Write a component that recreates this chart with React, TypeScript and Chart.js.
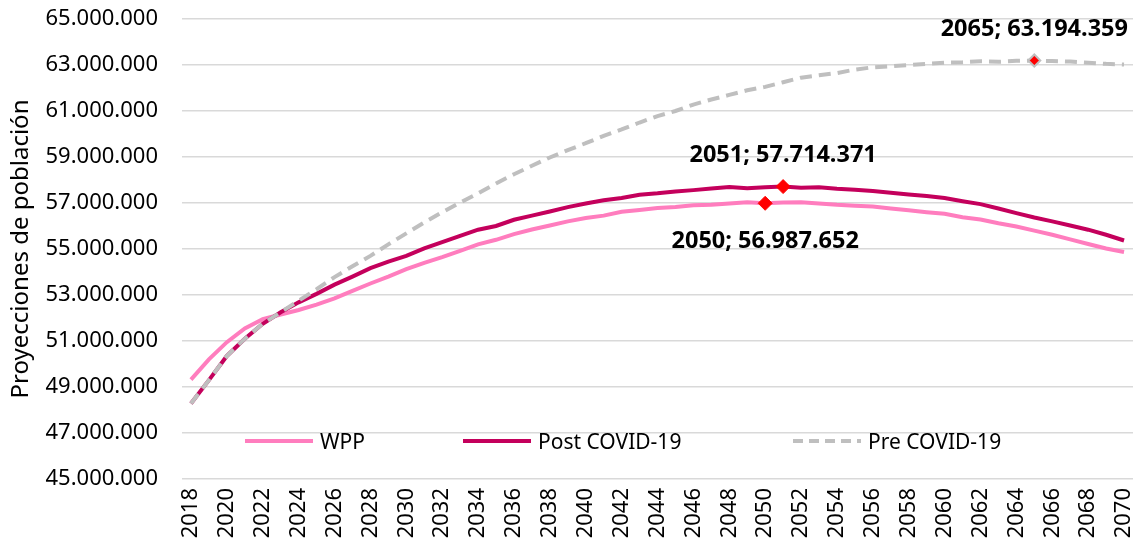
import React, { useEffect, useRef } from 'react';
import { Chart, registerables } from 'chart.js';

Chart.register(...registerables);

const years = [
  '2018', '2019', '2020', '2021', '2022', '2023', '2024', '2025', '2026', '2027',
  '2028', '2029', '2030', '2031', '2032', '2033', '2034', '2035', '2036', '2037',
  '2038', '2039', '2040', '2041', '2042', '2043', '2044', '2045', '2046', '2047',
  '2048', '2049', '2050', '2051', '2052', '2053', '2054', '2055', '2056', '2057',
  '2058', '2059', '2060', '2061', '2062', '2063', '2064', '2065', '2066', '2067',
  '2068', '2069', '2070',
];

const wpp = [
  49320000, 50200000, 50950000, 51550000, 51950000, 52150000, 52350000, 52580000, 52850000, 53180000,
  53500000, 53800000, 54120000, 54400000, 54650000, 54920000, 55200000, 55400000, 55650000, 55850000,
  56020000, 56200000, 56350000, 56450000, 56620000, 56700000, 56780000, 56830000, 56900000, 56920000,
  56980000, 57030000, 56987652, 57020000, 57030000, 56980000, 56920000, 56880000, 56850000, 56760000,
  56680000, 56600000, 56530000, 56380000, 56280000, 56120000, 55980000, 55800000, 55620000, 55420000,
  55220000, 55020000, 54870000,
];

const postCovid = [
  48280000, 49300000, 50350000, 51100000, 51750000, 52250000, 52680000, 53050000, 53450000, 53800000,
  54170000, 54450000, 54700000, 55030000, 55300000, 55570000, 55840000, 56000000, 56270000, 56450000,
  56630000, 56820000, 56980000, 57120000, 57220000, 57360000, 57420000, 57500000, 57560000, 57630000,
  57700000, 57640000, 57680000, 57714371, 57660000, 57680000, 57620000, 57580000, 57520000, 57450000,
  57370000, 57300000, 57220000, 57080000, 56950000, 56760000, 56560000, 56370000, 56200000, 56020000,
  55840000, 55620000, 55370000,
];

const preCovid = [
  48280000, 49300000, 50350000, 51100000, 51750000, 52250000, 52750000, 53250000, 53780000, 54250000,
  54700000, 55200000, 55680000, 56150000, 56600000, 57020000, 57420000, 57850000, 58250000, 58620000,
  58980000, 59300000, 59600000, 59920000, 60200000, 60500000, 60780000, 61000000, 61280000, 61500000,
  61700000, 61900000, 62050000, 62250000, 62450000, 62550000, 62650000, 62800000, 62900000, 62950000,
  63000000, 63050000, 63100000, 63120000, 63160000, 63140000, 63180000, 63194359, 63170000, 63150000,
  63100000, 63050000, 63020000,
];

const seriesNames = ['WPP', 'Post COVID-19', 'Pre COVID-19'];
const highlightYears = ['2050', '2051', '2065'];

const FONT = '"Noto Sans", "Open Sans", sans-serif';
const COLORS = ['#FF7DBE', '#C4005C', '#BFBFBF'];

const fmt = (v: number) =>
  Math.round(v).toString().replace(/\B(?=(\d{3})+(?!\d))/g, '.');

const legendPlugin = {
  id: 'insideLegend',
  afterDraw(chart: any) {
    const { ctx, chartArea } = chart;
    const y = chartArea.bottom - 38;
    const offsets = [63, 281, 611];
    ctx.save();
    ctx.font = `21px ${FONT}`;
    ctx.textBaseline = 'middle';
    ctx.fillStyle = '#000';
    seriesNames.forEach((name, i) => {
      const x0 = chartArea.left + offsets[i];
      ctx.beginPath();
      ctx.strokeStyle = COLORS[i];
      ctx.lineWidth = 4;
      ctx.setLineDash(i === 2 ? [10, 6] : []);
      ctx.moveTo(x0, y);
      ctx.lineTo(x0 + 68, y);
      ctx.stroke();
      ctx.setLineDash([]);
      ctx.fillText(name, x0 + 75, y + 2);
    });
    ctx.restore();
  },
};

const labelPlugin = {
  id: 'pointLabels',
  afterDatasetsDraw(chart: any) {
    const { ctx } = chart;
    ctx.save();
    ctx.font = `bold 23.5px ${FONT}`;
    ctx.fillStyle = '#000';
    ctx.textAlign = 'center';
    ctx.textBaseline = 'middle';
    const dsValues = [wpp, postCovid, preCovid];
    highlightYears.forEach((yr, i) => {
      const idx = years.indexOf(yr);
      const pt = chart.getDatasetMeta(i).data[idx];
      if (!pt) return;
      const dy = i === 0 ? 38 : -31;
      ctx.fillText(`${yr}; ${fmt(dsValues[i][idx])}`, pt.x, pt.y + dy);
    });
    ctx.restore();
  },
};

export default function App() {
  const ref = useRef<HTMLCanvasElement | null>(null);

  useEffect(() => {
    if (!ref.current) return;
    const mk = (i: number) => {
      const idx = years.indexOf(highlightYears[i]);
      return {
        pointRadius: (c: any) => (c.dataIndex === idx ? (i === 2 ? 6 : 7) : 0),
        pointHoverRadius: 0,
        pointStyle: 'rectRot',
        pointBackgroundColor: '#FF0000',
        pointBorderColor: i === 2 ? '#BFBFBF' : '#FF0000',
        pointBorderWidth: i === 2 ? 2 : 1,
      };
    };
    const chart = new Chart(ref.current, {
      type: 'line',
      data: {
        labels: years,
        datasets: [
          {
            label: seriesNames[0],
            data: wpp,
            borderColor: COLORS[0],
            borderWidth: 4,
            tension: 0,
            order: 2,
            ...mk(0),
          },
          {
            label: seriesNames[1],
            data: postCovid,
            borderColor: COLORS[1],
            borderWidth: 4,
            tension: 0,
            order: 1,
            ...mk(1),
          },
          {
            label: seriesNames[2],
            data: preCovid,
            borderColor: COLORS[2],
            borderWidth: 4,
            borderDash: [12, 7],
            tension: 0,
            order: 0,
            ...mk(2),
          },
        ] as any,
      },
      options: {
        animation: false,
        responsive: true,
        maintainAspectRatio: false,
        layout: { padding: { left: 0, right: 5, top: 19, bottom: 0 } },
        plugins: {
          legend: { display: false },
          tooltip: { enabled: false },
        },
        scales: {
          x: {
            offset: true,
            grid: { display: false, drawTicks: false },
            border: { display: false },
            ticks: {
              autoSkip: false,
              minRotation: 90,
              maxRotation: 90,
              padding: 9,
              color: '#000',
              font: { family: FONT, size: 22 },
              callback: (_v: any, i: number) => (i % 2 === 0 ? years[i] : ''),
            },
            afterFit: (s: any) => {
              s.height = 72;
              s.paddingLeft = 0;
              s.paddingRight = 0;
            },
          },
          y: {
            min: 45000000,
            max: 65000000,
            grid: { color: '#D9D9D9', lineWidth: 1.5, drawTicks: false },
            border: { display: false },
            ticks: {
              stepSize: 2000000,
              padding: 24,
              color: '#000',
              font: { family: FONT, size: 22 },
              callback: (v: any) => fmt(Number(v)),
            },
            title: {
              display: true,
              text: 'Proyecciones de población',
              color: '#000',
              font: { family: FONT, size: 24 },
              padding: { top: 7, bottom: 0 },
            },
            afterFit: (s: any) => {
              s.width = 182;
              s.paddingTop = 0;
              s.paddingBottom = 0;
            },
          },
        },
      },
      plugins: [legendPlugin, labelPlugin],
    });
    return () => chart.destroy();
  }, []);

  return (
    <div style={{ position: 'fixed', left: 0, top: 0, width: 1138, height: 551, background: '#fff' }}>
      <canvas ref={ref} />
    </div>
  );
}
